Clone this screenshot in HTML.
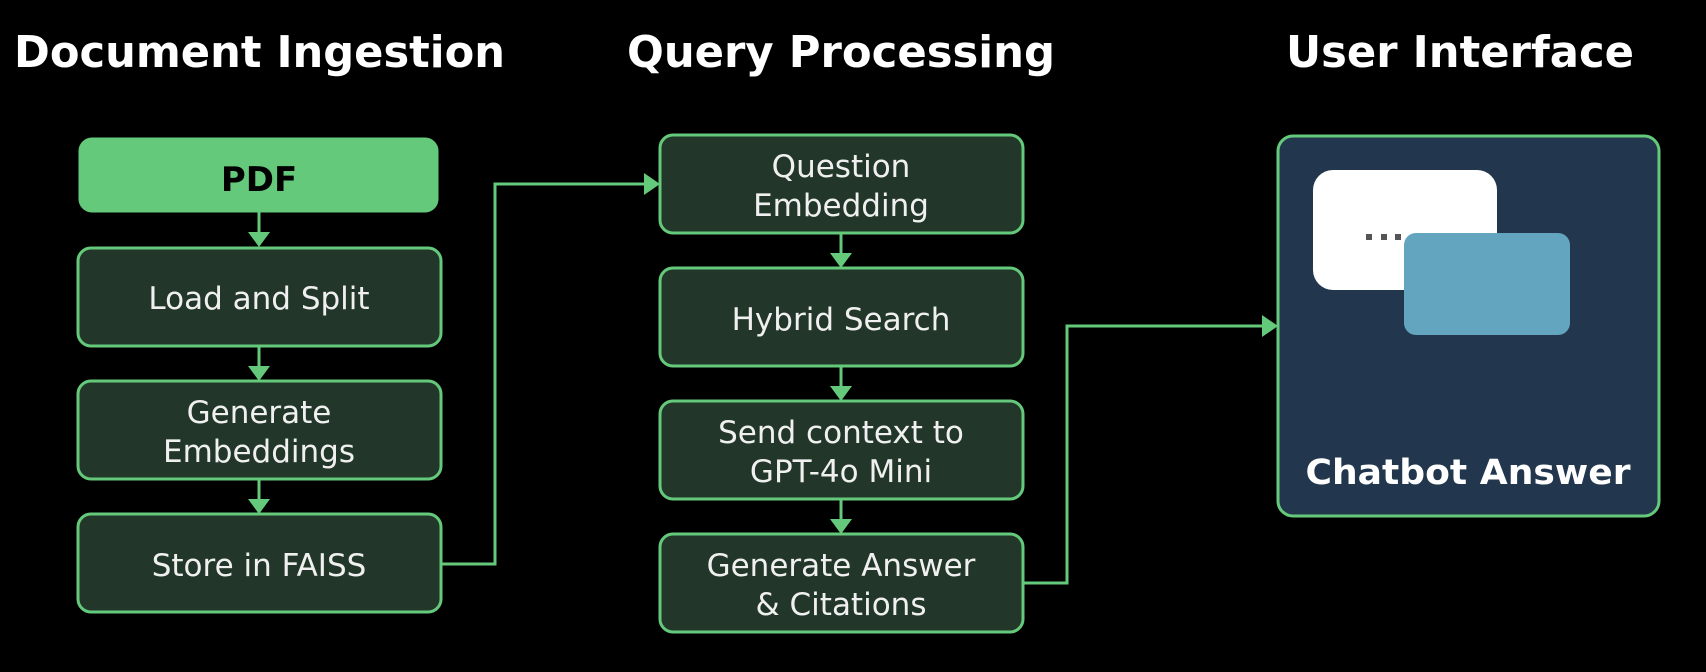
<!DOCTYPE html>
<html><head><meta charset="utf-8"><style>
html,body{margin:0;padding:0;background:#000;}
svg{display:block;}
</style></head><body>
<svg width="1706" height="672" viewBox="0 0 1706 672" xmlns="http://www.w3.org/2000/svg">
<rect width="1706" height="672" fill="#000"/>
<g font-family="DejaVu Sans, Liberation Sans, sans-serif" fill="#fff" font-weight="bold" font-size="44">
<text x="14" y="67" textLength="491" lengthAdjust="spacingAndGlyphs">Document Ingestion</text>
<text x="627" y="67" textLength="428" lengthAdjust="spacingAndGlyphs">Query Processing</text>
<text x="1286" y="67" textLength="348" lengthAdjust="spacingAndGlyphs">User Interface</text>
</g>
<g stroke="#64c97a" stroke-width="3">
<rect x="80" y="139" width="357" height="72" rx="12" fill="#64c97a"/>
<rect x="78" y="248" width="363" height="98" rx="13" fill="#22372a"/>
<rect x="78" y="381" width="363" height="98" rx="13" fill="#22372a"/>
<rect x="78" y="514" width="363" height="98" rx="13" fill="#22372a"/>
<rect x="660" y="135" width="363" height="98" rx="13" fill="#22372a"/>
<rect x="660" y="268" width="363" height="98" rx="13" fill="#22372a"/>
<rect x="660" y="401" width="363" height="98" rx="13" fill="#22372a"/>
<rect x="660" y="534" width="363" height="98" rx="13" fill="#22372a"/>
<rect x="1278" y="136" width="381" height="380" rx="15" fill="#22374d"/>
</g>
<g stroke="#64c97a" stroke-width="3" fill="none">
<line x1="259" y1="212" x2="259" y2="235"/>
<line x1="259" y1="346" x2="259" y2="368"/>
<line x1="259" y1="479" x2="259" y2="501"/>
<line x1="841" y1="233" x2="841" y2="255"/>
<line x1="841" y1="366" x2="841" y2="388"/>
<line x1="841" y1="499" x2="841" y2="521"/>
<polyline points="441,564 495,564 495,184 645,184"/>
<polyline points="1023,583 1067,583 1067,326 1263,326"/>
</g>
<g fill="#64c97a">
<polygon points="248,232 270,232 259,247"/>
<polygon points="248,366 270,366 259,381"/>
<polygon points="248,499 270,499 259,514"/>
<polygon points="830,253 852,253 841,268"/>
<polygon points="830,386 852,386 841,401"/>
<polygon points="830,519 852,519 841,534"/>
<polygon points="644,173 644,195 660,184"/>
<polygon points="1262,315 1262,337 1278,326"/>
</g>
<rect x="1313" y="170" width="184" height="120" rx="20" fill="#fff"/>
<g fill="#555"><rect x="1366" y="234" width="6" height="6"/><rect x="1381" y="234" width="6" height="6"/><rect x="1395" y="234" width="6" height="6"/></g>
<rect x="1404" y="233" width="166" height="102" rx="12" fill="#63a5be"/>
<g font-family="DejaVu Sans, Liberation Sans, sans-serif" font-size="31" fill="#f0f0f0" text-anchor="middle">
<text x="259" y="191" font-weight="bold" font-size="34" fill="#000">PDF</text>
<text x="259" y="309">Load and Split</text>
<text x="259" y="423">Generate</text>
<text x="259" y="462">Embeddings</text>
<text x="259" y="576">Store in FAISS</text>
<text x="841" y="177">Question</text>
<text x="841" y="216">Embedding</text>
<text x="841" y="330">Hybrid Search</text>
<text x="841" y="443">Send context to</text>
<text x="841" y="482">GPT-4o Mini</text>
<text x="841" y="576">Generate Answer</text>
<text x="841" y="615">&amp; Citations</text>
<text x="1468" y="484" font-weight="bold" font-size="35" fill="#fff" textLength="325" lengthAdjust="spacingAndGlyphs">Chatbot Answer</text>
</g>
</svg>
</body></html>
